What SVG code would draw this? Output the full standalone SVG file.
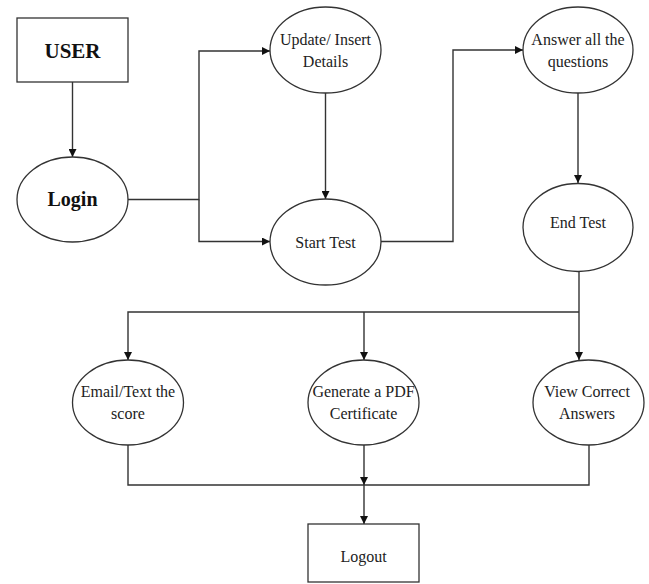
<svg xmlns="http://www.w3.org/2000/svg" width="649" height="584" viewBox="0 0 649 584">
<style>
.shape{fill:#fff;stroke:#333;stroke-width:1.3}
.t{font-family:"Liberation Serif","Times New Roman",serif;font-size:16px;fill:#222;text-anchor:middle}
.b{font-family:"Liberation Serif","Times New Roman",serif;font-size:21px;font-weight:bold;fill:#111;text-anchor:middle}
.c{fill:none;stroke:#333;stroke-width:1.4}
</style>
<defs>
<marker id="ah" viewBox="0 0 10 10" refX="10" refY="5" markerWidth="8" markerHeight="8" markerUnits="userSpaceOnUse" orient="auto">
<path d="M0,0 L10,5 L0,10 z" fill="#111"/>
</marker>
</defs>
<rect width="649" height="584" fill="#fff"/>
<g id="connectors">
<path class="c" d="M72.5,82 V157" marker-end="url(#ah)"/>
<path class="c" d="M128,199.5 H199 V51 H270" marker-end="url(#ah)"/>
<path class="c" d="M199,199.5 V241.5 H270" marker-end="url(#ah)"/>
<path class="c" d="M325.5,93 V199" marker-end="url(#ah)"/>
<path class="c" d="M381,241.5 H453 V50 H523" marker-end="url(#ah)"/>
<path class="c" d="M578,93 V183" marker-end="url(#ah)"/>
<path class="c" d="M579,271 V360" marker-end="url(#ah)"/>
<path class="c" d="M579,312 H128 V360" marker-end="url(#ah)"/>
<path class="c" d="M364,312 V360" marker-end="url(#ah)"/>
<path class="c" d="M128,445 V485 H589 V445"/>
<path class="c" d="M364,445 V485" marker-end="url(#ah)"/>
<path class="c" d="M364,485 V524" stroke-width="2" marker-end="url(#ah)"/>
</g>
<g id="user">
<rect class="shape" x="17" y="18" width="111" height="64"/>
<text class="b" x="72.5" y="58">USER</text>
</g>
<g id="login">
<ellipse class="shape" cx="72.5" cy="199.5" rx="55.5" ry="42.5"/>
<text class="b" x="72.5" y="206" style="font-size:20px">Login</text>
</g>
<g id="update">
<ellipse class="shape" cx="325.5" cy="50" rx="55.5" ry="43"/>
<text class="t" x="325.5" y="45">Update/ Insert</text>
<text class="t" x="325.5" y="67">Details</text>
</g>
<g id="start">
<ellipse class="shape" cx="325.5" cy="242" rx="55.5" ry="43"/>
<text class="t" x="325.5" y="248">Start Test</text>
</g>
<g id="answer">
<ellipse class="shape" cx="578" cy="50" rx="55" ry="43"/>
<text class="t" x="578" y="45">Answer all the</text>
<text class="t" x="578" y="67">questions</text>
</g>
<g id="end">
<ellipse class="shape" cx="578" cy="227.5" rx="55" ry="44"/>
<text class="t" x="578" y="228">End Test</text>
</g>
<g id="email">
<ellipse class="shape" cx="128" cy="402.5" rx="55.5" ry="42.5"/>
<text class="t" x="128" y="397">Email/Text the</text>
<text class="t" x="128" y="419">score</text>
</g>
<g id="pdf">
<ellipse class="shape" cx="363.5" cy="402.5" rx="55.5" ry="42.5"/>
<text class="t" x="363.5" y="397">Generate a PDF</text>
<text class="t" x="363.5" y="419">Certificate</text>
</g>
<g id="view">
<ellipse class="shape" cx="588.5" cy="402.5" rx="55.5" ry="42.5"/>
<text class="t" x="587" y="397">View Correct</text>
<text class="t" x="587" y="419">Answers</text>
</g>
<g id="logout">
<rect class="shape" x="308" y="524" width="111" height="58"/>
<text class="t" x="363.5" y="562">Logout</text>
</g>
</svg>
